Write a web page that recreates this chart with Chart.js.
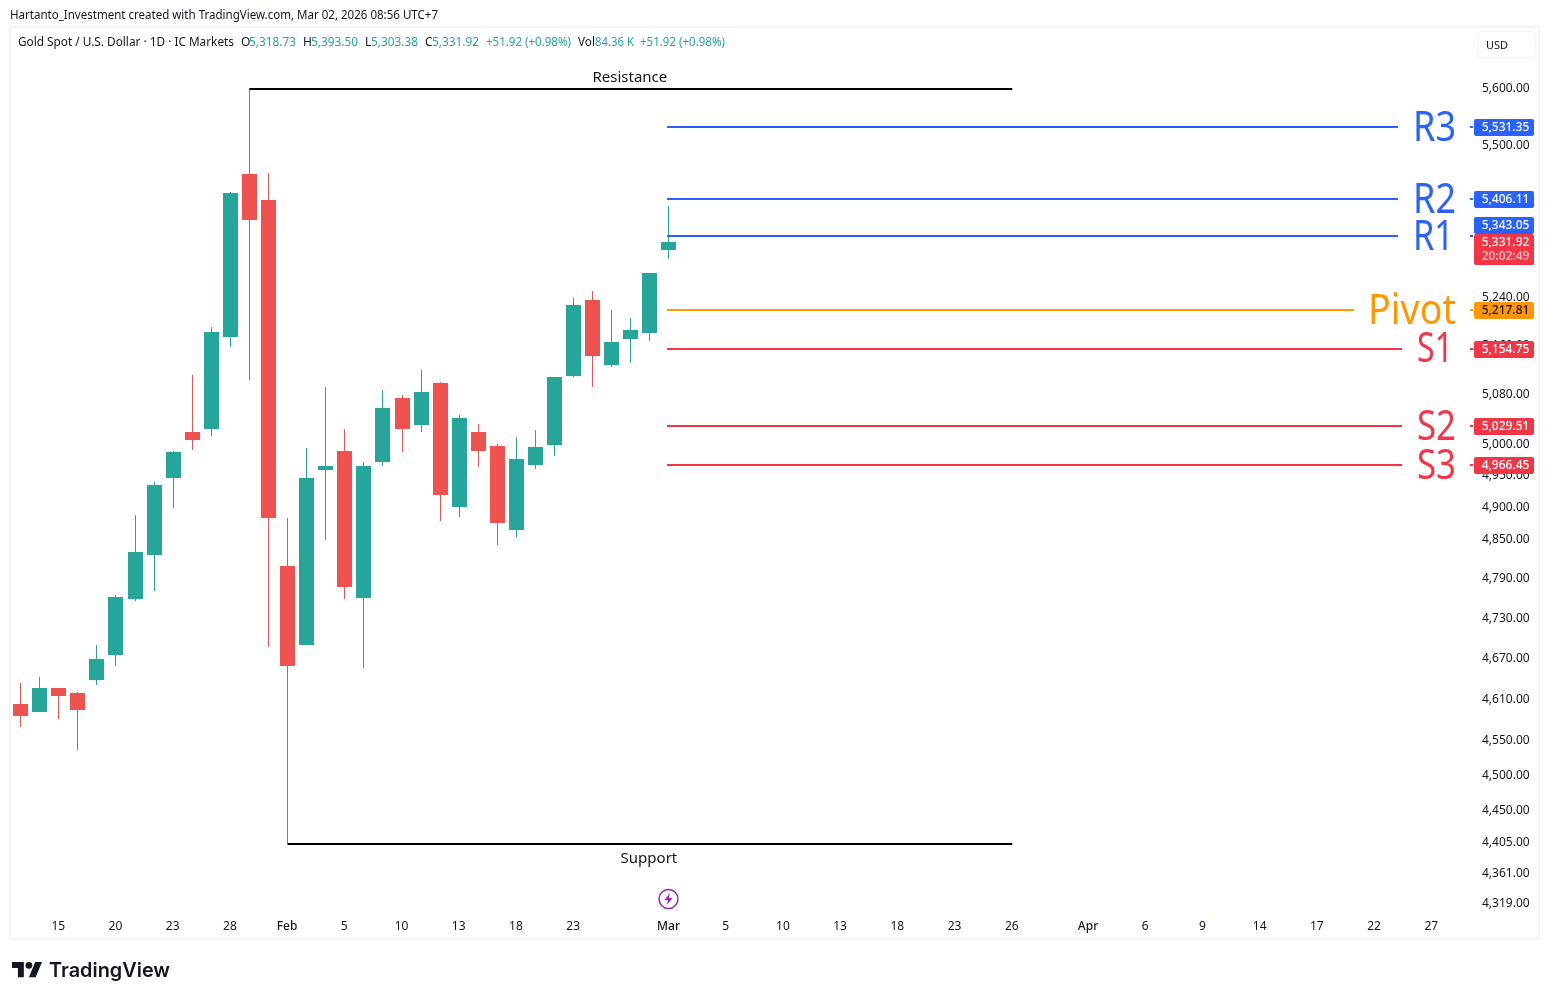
<!DOCTYPE html>
<html>
<head>
<meta charset="utf-8">
<title>Gold Spot / U.S. Dollar</title>
<script src="https://cdn.jsdelivr.net/npm/chart.js@4"></script>
<style>
  html, body { margin: 0; padding: 0; background: #fff; }
  canvas { display: block; }
</style>
</head>
<body>
<canvas id="chart" width="1549" height="1000"></canvas>
<script>
// Daily candles, oldest first; index 0 is 13 Jan, index 34 is 2 Mar.
const opens  = [4602.2,4590.6,4625.8,4618.4,4637.6,4674.6,4758.7,4825.9,4945.9,5018.8,5023.6,5173.0,5448.9,5403.8,4809.1,4689.6,4958.5,4988.4,4760.2,4971.1,5073.4,5030.1,5097.8,4900.3,5018.8,4996.4,4864.6,4966.3,4998.0,5109.2,5234.2,5127.1,5169.7,5179.6,5318.73];
const highs  = [4633.2,4642.1,4625.8,4619.9,4689.6,4764.8,4887.9,4939.6,4988.4,5110.8,5189.6,5417.6,5598.0,5450.6,4883.2,4993.2,5091.3,5023.6,4971.1,5086.4,5078.3,5119.0,5099.4,5046.1,5031.7,4999.6,5010.8,5022.0,5107.6,5237.6,5249.4,5217.7,5204.5,5279.7,5393.50];
const lows   = [4568.7,4590.6,4580.4,4535.2,4630.2,4658.4,4755.6,4770.9,4898.8,4990.0,5012.4,5156.5,5102.7,4686.6,4401.5,4689.6,4849.1,4758.7,4655.4,4964.8,4986.8,5018.8,4878.6,4884.8,4963.2,4841.3,4853.8,4960.0,4980.5,5107.6,5091.3,5123.8,5130.3,5166.4,5303.38];
const closes = [4584.7,4625.8,4614.0,4593.5,4668.7,4761.7,4830.5,4934.8,4986.8,5006.0,5181.3,5415.9,5369.6,4883.2,4658.4,4945.9,4964.8,4777.0,4964.8,5057.3,5023.6,5083.1,4919.1,5041.3,4988.4,4875.5,4975.8,4994.8,5107.6,5226.0,5141.7,5164.8,5184.6,5279.7,5331.92];

// Pivot levels and where each line ends on the bar axis.
const levelNames  = ['R3','R2','R1','Pivot','S1','S2','S3'];
const levelValues = [5531.35,5406.11,5343.05,5217.81,5154.75,5029.51,4966.45];
const levelEnds   = [72.23,72.23,72.23,69.92,72.44,72.44,72.44];
const levelStart  = 33.90;

// Swing high and low trend lines.
const resistance = { start: 12, end: 52, value: 5598.0, name: 'Resistance' };
const support    = { start: 14, end: 52, value: 4401.5, name: 'Support' };

const priceTicks = [5600,5500,5240,5160,5080,5000,4950,4900,4850,4790,4730,4670,4610,4550,4500,4450,4405,4361,4319];
const dateTickBars   = [2,5,8,11,14,17,20,23,26,29,34,37,40,43,46,49,52,56,59,62,65,68,71,74];
const dateTickLabels = ['15','20','23','28','Feb','5','10','13','18','23','Mar','5','10','13','18','23','26','Apr','6','9','14','17','22','27'];

const UP = '#26A69A', DOWN = '#EF5350', BLUE = '#2962FF', RED = '#F23645', ORANGE = '#FF9800', INK = '#131722';
const levelColors = [BLUE,BLUE,BLUE,ORANGE,RED,RED,RED];
const UI_FONT = '"Noto Sans"';

const fmt = v => v.toLocaleString('en-US', { minimumFractionDigits: 2, maximumFractionDigits: 2 });
const isUp = i => closes[i] >= opens[i];

const wickData = opens.map((_, i) => ({ x: i, y: [lows[i], highs[i]] }));
const bodyData = opens.map((_, i) => ({ x: i, y: [opens[i], closes[i]] }));
const candleColors = opens.map((_, i) => isUp(i) ? UP : DOWN);

const levelSets = levelValues.map((v, i) => ({
  type: 'line',
  snap: Math.ceil,
  data: [{ x: levelStart, y: v }, { x: levelEnds[i], y: v }],
  borderColor: levelColors[i], borderWidth: 2, pointRadius: 0, order: 1
}));
const trendSets = [resistance, support].map(t => ({
  type: 'line',
  snap: Math.round,
  data: [{ x: t.start, y: t.value }, { x: t.end, y: t.value }],
  borderColor: '#000', borderWidth: 2, pointRadius: 0, order: 1
}));

// Keeps candle edges and horizontal lines on whole pixels so they stay crisp.
const snapMarks = {
  id: 'snapMarks',
  beforeDatasetDraw(chart, args) {
    if (args.meta.type === 'bar') {
      args.meta.data.forEach(el => {
        el.x = Math.floor(el.x) + 0.5;
        el.y = Math.round(el.y);
        el.base = Math.round(el.base);
      });
    } else {
      const snap = chart.data.datasets[args.index].snap;
      args.meta.data.forEach(pt => { pt.y = snap(pt.y); });
    }
  }
};

// Glyphs sit about a pixel high of the middle baseline, hence the nudge.
function text(ctx, str, x, y, font, color, align, maxWidth) {
  ctx.font = font;
  ctx.fillStyle = color;
  ctx.textAlign = align || 'left';
  ctx.textBaseline = 'middle';
  if (maxWidth) ctx.fillText(str, x, y + 1, maxWidth); else ctx.fillText(str, x, y + 1);
}

const TAG_FONT = '500 12px ' + UI_FONT;

function priceTag(ctx, label, yMid, fill, color) {
  ctx.fillStyle = fill;
  ctx.beginPath();
  ctx.roundRect(1474, yMid - 8, 60, 17, 2);
  ctx.fill();
  text(ctx, label, 1505.5, yMid, TAG_FONT, color, 'center', 48);
}

// Frame, header row, level captions, price tags and the footer mark.
const decorations = {
  id: 'decorations',
  beforeDraw(chart) {
    const ctx = chart.ctx;
    ctx.save();
    ctx.fillStyle = '#fff';
    ctx.fillRect(0, 0, chart.width, chart.height);
    ctx.strokeStyle = '#F0F3FA';
    ctx.lineWidth = 2;
    ctx.strokeRect(10, 27, 1529, 912);
    ctx.restore();
  },
  afterDraw(chart) {
    const ctx = chart.ctx, xs = chart.scales.x, ys = chart.scales.y;
    ctx.save();

    text(ctx, 'Hartanto_Investment created with TradingView.com, Mar 02, 2026 08:56 UTC+7', 10, 15, '12px ' + UI_FONT, INK, 'left', 428);

    const hf = '12px ' + UI_FONT;
    text(ctx, 'Gold Spot / U.S. Dollar · 1D · IC Markets', 18, 42, hf, INK, 'left', 216);
    const pairs = [['O', 241, opens[34], 249], ['H', 303, highs[34], 311], ['L', 365, lows[34], 371], ['C', 425, closes[34], 432]];
    pairs.forEach(p => {
      text(ctx, p[0], p[1], 42, hf, INK);
      text(ctx, fmt(p[2]), p[3], 42, hf, UP, 'left', 47);
    });
    text(ctx, '+51.92 (+0.98%)', 486, 42, hf, UP, 'left', 85);
    text(ctx, 'Vol', 578, 42, hf, INK, 'left', 17);
    text(ctx, '84.36 K', 595, 42, hf, UP, 'left', 39);
    text(ctx, '+51.92 (+0.98%)', 640, 42, hf, UP, 'left', 85);

    // Currency button
    ctx.strokeStyle = '#F0F3FA';
    ctx.lineWidth = 1;
    ctx.beginPath();
    ctx.roundRect(1477.5, 31.5, 58, 26, 4);
    ctx.stroke();
    text(ctx, 'USD', 1486, 45, '11px ' + UI_FONT, INK);

    // Trend line captions
    [[resistance, -12], [support, 14]].forEach(([t, dy]) => {
      const cx = (xs.getPixelForValue(t.start) + xs.getPixelForValue(t.end)) / 2 - 1;
      text(ctx, t.name, cx, ys.getPixelForValue(t.value) + dy, '15px ' + UI_FONT, INK, 'center');
    });

    // Pivot captions and their axis markers
    const captionWidths = [43, 43, 41, 88, 36, 39, 39];
    const captionRight  = [1456, 1456, 1454, 1456, 1453, 1456, 1456];
    const tagShift = [0, 0, -11, 0, 0, 0, 0];
    levelValues.forEach((v, i) => {
      const y = ys.getPixelForValue(v);
      text(ctx, levelNames[i], captionRight[i], y + 1.5, '41px ' + UI_FONT, levelColors[i], 'right', captionWidths[i]);
      ctx.fillStyle = levelColors[i];
      ctx.fillRect(1470, Math.ceil(y) - 1, 3, 2);
    });
    levelValues.forEach((v, i) => {
      priceTag(ctx, fmt(v), Math.ceil(ys.getPixelForValue(v)) + tagShift[i], levelColors[i], i === 3 ? INK : '#fff');
    });

    // Last price with countdown
    ctx.fillStyle = RED;
    ctx.beginPath();
    ctx.roundRect(1474, 234, 60, 31, 2);
    ctx.fill();
    text(ctx, fmt(closes[34]), 1505.5, 242, TAG_FONT, '#fff', 'center', 48);
    text(ctx, '20:02:49', 1505.5, 256, TAG_FONT, '#FBC1C7', 'center', 48);

    // Session marker above the Mar label
    const mx = Math.floor(xs.getPixelForValue(34)) + 0.5, my = 899;
    ctx.strokeStyle = '#9C27B0';
    ctx.lineWidth = 1.5;
    ctx.beginPath();
    ctx.arc(mx, my, 9.5, 0, Math.PI * 2);
    ctx.stroke();
    ctx.fillStyle = '#9C27B0';
    ctx.beginPath();
    ctx.moveTo(mx + 1.5, my - 6);
    ctx.lineTo(mx - 4, my + 1);
    ctx.lineTo(mx - 0.5, my + 1);
    ctx.lineTo(mx - 1.5, my + 6);
    ctx.lineTo(mx + 4, my - 1);
    ctx.lineTo(mx + 0.5, my - 1);
    ctx.closePath();
    ctx.fill();

    // Footer mark
    const s = 0.845, ox = 12, oy = 958.6;
    ctx.fillStyle = '#131722';
    ctx.beginPath();
    ctx.moveTo(ox + 14 * s, oy + 22 * s);
    ctx.lineTo(ox + 7 * s, oy + 22 * s);
    ctx.lineTo(ox + 7 * s, oy + 11 * s);
    ctx.lineTo(ox, oy + 11 * s);
    ctx.lineTo(ox, oy + 4 * s);
    ctx.lineTo(ox + 14 * s, oy + 4 * s);
    ctx.closePath();
    ctx.moveTo(ox + 28 * s, oy + 22 * s);
    ctx.lineTo(ox + 20 * s, oy + 22 * s);
    ctx.lineTo(ox + 27.5 * s, oy + 4 * s);
    ctx.lineTo(ox + 35.5 * s, oy + 4 * s);
    ctx.closePath();
    ctx.fill();
    ctx.beginPath();
    ctx.arc(ox + 20 * s, oy + 8 * s, 4 * s, 0, Math.PI * 2);
    ctx.fill();
    text(ctx, 'TradingView', 49, 970, '600 20px Inter', '#131722', 'left', 121);

    ctx.restore();
  }
};

new Chart(document.getElementById('chart'), {
  type: 'bar',
  data: {
    datasets: [
      { data: wickData, backgroundColor: candleColors, barThickness: 1, grouped: false, inflateAmount: 0, order: 3 },
      { data: bodyData, backgroundColor: candleColors, barThickness: 15, grouped: false, inflateAmount: 0, order: 2 },
      ...levelSets,
      ...trendSets
    ]
  },
  plugins: [snapMarks, decorations],
  options: {
    responsive: false,
    animation: false,
    events: [],
    layout: { padding: { left: 11, right: 9, top: 55, bottom: 61 } },
    plugins: { legend: { display: false }, tooltip: { enabled: false } },
    scales: {
      x: {
        type: 'linear',
        offset: false,
        min: -0.50393,
        max: 76.0037,
        grid: { display: false, drawTicks: false },
        border: { display: false },
        afterFit(axis) { axis.height = 24; },
        afterBuildTicks(axis) { axis.ticks = dateTickBars.map(v => ({ value: v })); },
        ticks: {
          autoSkip: false,
          maxRotation: 0,
          padding: 4,
          labelOffset: -0.5,
          color: INK,
          font: c => ({ family: UI_FONT, size: 12, weight: /^[A-Z]/.test(dateTickLabels[c.index] || '') ? '500' : '400' }),
          callback(value, index) { return dateTickLabels[index]; }
        }
      },
      y: {
        type: 'logarithmic',
        position: 'right',
        bounds: 'data',
        min: 4303.2,
        max: 5659.2,
        grid: { display: false, drawTicks: false },
        border: { display: false },
        afterFit(axis) { axis.width = 70; },
        afterBuildTicks(axis) { axis.ticks = priceTicks.map(v => ({ value: v })); },
        ticks: {
          autoSkip: false,
          crossAlign: 'near',
          padding: 12,
          labelOffset: 0.5,
          color: INK,
          font: { family: UI_FONT, size: 12 },
          callback(value) { return fmt(value); }
        }
      }
    }
  }
});
</script>
</body>
</html>
